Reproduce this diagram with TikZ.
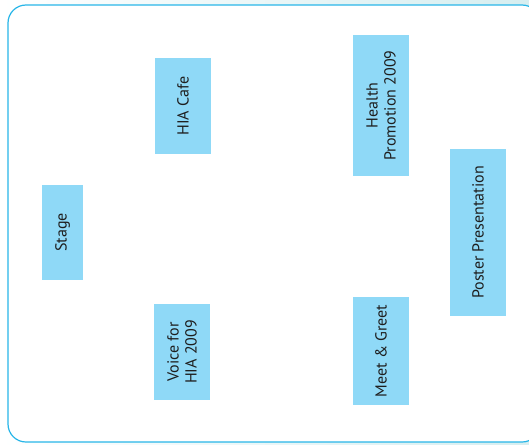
\documentclass[tikz,border=0pt]{standalone}
\usepackage{fontspec}
\setmainfont{PT Sans}
\definecolor{boxfill}{RGB}{143,217,247}
\definecolor{frameline}{RGB}{40,182,232}
\definecolor{bgteal}{RGB}{214,238,240}
\definecolor{txt}{RGB}{30,30,30}
\begin{document}
\begin{tikzpicture}[x=1pt,y=-1pt,
  card/.style={fill=boxfill, draw=none, inner sep=0pt},
  lbl/.style={rotate=90, text=txt, font=\fontsize{16}{18}\selectfont, align=center, inner sep=0pt},
]
\useasboundingbox (0,0) rectangle (529,444);
\shade[left color=white, right color=bgteal] (0,0) rectangle (529,444);
\fill[white, rounded corners=18pt] (8,5) rectangle (540,442);
\draw[frameline, line width=1.2pt, rounded corners=18pt] (8,5) rectangle (540,442);
\node[card, minimum width=56pt, minimum height=96pt] (cafe) at (183,106) {};
\node[lbl] (cafet) at (cafe.center) {HIA Cafe};
\node[card, minimum width=56pt, minimum height=141pt] (health) at (381,105.5) {};
\node[lbl] (healtht) at (health.center) {Health\\Promotion 2009};
\node[card, minimum width=56pt, minimum height=167pt] (poster) at (478,232.5) {};
\node[lbl] (postert) at (poster.center) {Poster Presentation};
\node[card, minimum width=41pt, minimum height=95pt] (stage) at (62.5,232.5) {};
\node[lbl] (staget) at (stage.center) {Stage};
\node[card, minimum width=56pt, minimum height=96pt] (voice) at (182,352) {};
\node[lbl] (voicet) at (voice.center) {Voice for\\HIA 2009};
\node[card, minimum width=56pt, minimum height=108pt] (meet) at (381,351) {};
\node[lbl] (meett) at (meet.center) {Meet \& Greet};
\end{tikzpicture}
\end{document}
